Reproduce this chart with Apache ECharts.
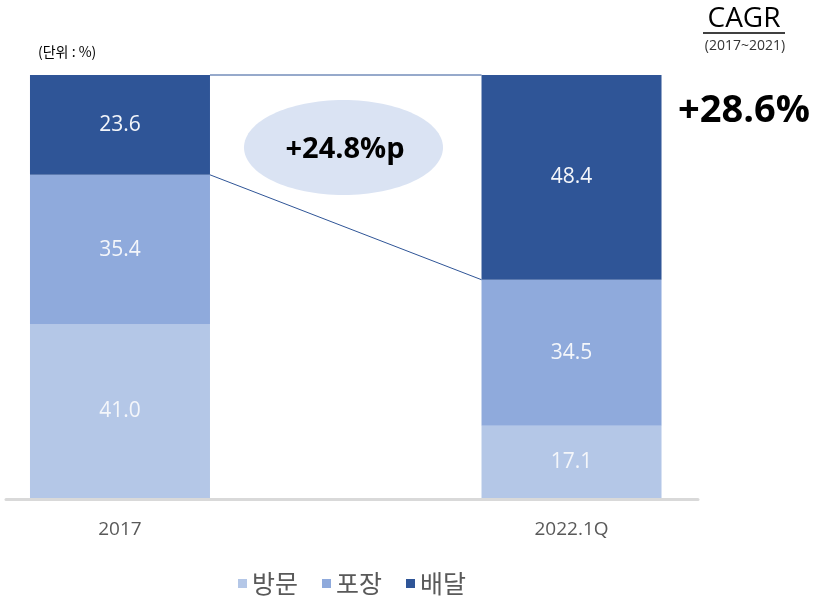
<!DOCTYPE html>
<html>
<head>
<meta charset="utf-8">
<script src="https://cdn.jsdelivr.net/npm/echarts@6/dist/echarts.min.js"></script>
<style>
  html, body { margin: 0; padding: 0; background: #fff; }
  #chart { width: 813px; height: 597px; }
</style>
</head>
<body>
<div id="chart"></div>
<script>
// Categories (the empty middle slot leaves room for the change annotation)
const categories = ['2017', '', '2022.1Q'];
const seriesNames = ['방문', '포장', '배달'];
const visitShare    = [41.0, null, 17.1];
const takeoutShare  = [35.4, null, 34.5];
const deliveryShare = [23.6, null, 48.4];
const cagrLabel = '+28.6%';
const cagrPeriod = '(2017~2021)';
const unitLabel = '(단위 : %)';

const colors = ['#b4c7e7', '#8faadc', '#2f5597'];
const numFont = "'Open Sans', 'Noto Sans CJK KR', sans-serif";
const krFont = "'Noto Sans CJK KR', sans-serif";

// Stack boundaries used by the connector lines between the two bars
const firstIdx = 0, lastIdx = 2;
const topOf = i => visitShare[i] + takeoutShare[i] + deliveryShare[i];
const midOf = i => visitShare[i] + takeoutShare[i];
const connectors = [
  [firstIdx, topOf(firstIdx), lastIdx, topOf(lastIdx)],
  [firstIdx, midOf(firstIdx), lastIdx, midOf(lastIdx)]
];
const deliveryChange = (deliveryShare[lastIdx] - deliveryShare[firstIdx]).toFixed(1);

const BAR_W = 180;

function barSeries(name, data, color) {
  return {
    name: name,
    type: 'bar',
    stack: 'share',
    barWidth: BAR_W,
    data: data.map(v => v == null ? '-' : v),
    itemStyle: { color: color },
    label: {
      show: true,
      position: 'inside',
      color: '#f4f6fa',
      fontFamily: numFont,
      fontSize: 21,
      formatter: p => p.value.toFixed(1)
    },
    z: 3
  };
}

const chart = echarts.init(document.getElementById('chart'));
chart.setOption({
  animation: false,
  backgroundColor: '#ffffff',
  grid: [
    { left: 7.1, width: 677.3, top: 75, bottom: 99 },
    { left: 6, width: 692, top: 75, bottom: 97.5 }
  ],
  xAxis: [
    {
      type: 'category',
      gridIndex: 0,
      data: categories,
      axisLine: { show: false },
      axisTick: { show: false },
      axisLabel: { color: '#595959', fontSize: 19, fontFamily: numFont, margin: 22 }
    },
    {
      type: 'value',
      gridIndex: 1,
      min: 0, max: 1,
      axisLine: { show: true, lineStyle: { color: '#d9d9d9', width: 3 } },
      axisTick: { show: false },
      axisLabel: { show: false },
      splitLine: { show: false }
    }
  ],
  yAxis: [
    { type: 'value', gridIndex: 0, min: 0, max: 100, show: false },
    { type: 'value', gridIndex: 1, min: 0, max: 1, show: false }
  ],
  legend: {
    data: seriesNames,
    left: 233,
    top: 566,
    itemWidth: 9,
    itemHeight: 9,
    itemGap: 24,
    icon: 'rect',
    textStyle: { color: '#595959', fontSize: 25, fontFamily: krFont, padding: [0, 0, 0, 0] }
  },
  series: [
    barSeries(seriesNames[0], visitShare, colors[0]),
    barSeries(seriesNames[1], takeoutShare, colors[1]),
    barSeries(seriesNames[2], deliveryShare, colors[2]),
    {
      type: 'custom',
      xAxisIndex: 0,
      yAxisIndex: 0,
      data: connectors,
      z: 4,
      renderItem: function (params, api) {
        const p1 = api.coord([api.value(0), api.value(1)]);
        const p2 = api.coord([api.value(2), api.value(3)]);
        return {
          type: 'line',
          shape: { x1: p1[0] + BAR_W / 2, y1: p1[1], x2: p2[0] - BAR_W / 2, y2: p2[1] },
          style: { stroke: '#2f5597', lineWidth: 1 }
        };
      }
    }
  ],
  graphic: [
    {
      type: 'text', left: 38, top: 45,
      style: { text: unitLabel, fill: '#000', font: '14px ' + krFont }
    },
    {
      type: 'ellipse',
      shape: { cx: 343.5, cy: 147.5, rx: 99.5, ry: 47.5 },
      style: { fill: '#dae3f3' },
      z: 5
    },
    {
      type: 'text', x: 345, y: 150, z: 6,
      style: {
        text: '+' + deliveryChange + '%p',
        align: 'center', verticalAlign: 'middle',
        font: 'bold 29px ' + numFont, fill: '#000'
      }
    },
    {
      type: 'text', x: 744, y: 19,
      style: {
        text: 'CAGR', align: 'center', verticalAlign: 'middle',
        font: '28px ' + numFont, fill: '#000'
      }
    },
    {
      type: 'line',
      shape: { x1: 703, y1: 33, x2: 785, y2: 33 },
      style: { stroke: '#000', lineWidth: 1.5 }
    },
    {
      type: 'text', x: 745, y: 46,
      style: {
        text: cagrPeriod, align: 'center', verticalAlign: 'middle',
        font: '14px ' + numFont, fill: '#333'
      }
    },
    {
      type: 'text', x: 744, y: 111,
      style: {
        text: cagrLabel, align: 'center', verticalAlign: 'middle',
        font: 'bold 38px ' + numFont, fill: '#000'
      }
    }
  ]
});
</script>
</body>
</html>
